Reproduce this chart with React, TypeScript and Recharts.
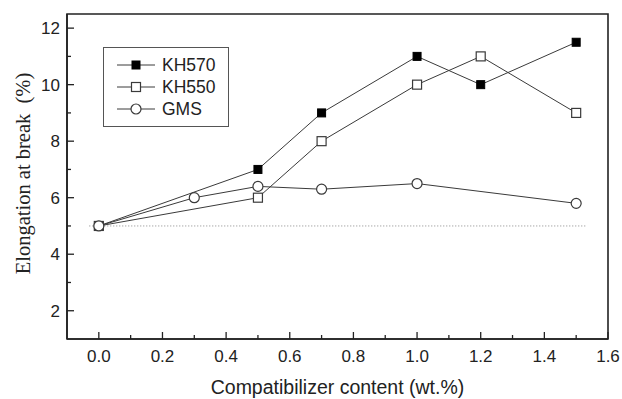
import React from 'react';
import {
  ScatterChart,
  Scatter,
  XAxis,
  YAxis,
  ReferenceLine,
  ReferenceArea,
  Legend,
} from 'recharts';

// compatibilizer content (wt.%) and elongation at break (%)
const kh570X = [0, 0.5, 0.7, 1.0, 1.2, 1.5];
const kh570Y = [5, 7, 9, 11, 10, 11.5];
const kh550X = [0, 0.5, 0.7, 1.0, 1.2, 1.5];
const kh550Y = [5, 6, 8, 10, 11, 9];
const gmsX = [0, 0.3, 0.5, 0.7, 1.0, 1.5];
const gmsY = [5, 6, 6.4, 6.3, 6.5, 5.8];

const xTicks = [0, 0.1, 0.2, 0.3, 0.4, 0.5, 0.6, 0.7, 0.8, 0.9, 1.0, 1.1, 1.2, 1.3, 1.4, 1.5, 1.6];
const yTicks = [2, 3, 4, 5, 6, 7, 8, 9, 10, 11, 12];
const baseline = 5;

const toPoints = (xs: number[], ys: number[]) => xs.map((x, i) => ({ x, y: ys[i] }));

const LINE = '#3a3a3a';
const AXIS = '#222';
const SANS = '"Liberation Sans", Arial, sans-serif';
const SERIF = '"Liberation Serif", "Times New Roman", serif';

const FilledSquare = ({ cx, cy }: any) => (
  <rect x={cx - 4} y={cy - 4} width={8} height={8} fill="#000" stroke="#000" strokeWidth={1} />
);
const OpenSquare = ({ cx, cy }: any) => (
  <rect x={cx - 4.5} y={cy - 4.5} width={9} height={9} fill="#fff" stroke={LINE} strokeWidth={1.2} />
);
const OpenCircle = ({ cx, cy }: any) => (
  <circle cx={cx} cy={cy} r={5} fill="#fff" stroke={LINE} strokeWidth={1.2} />
);

const series = [
  { name: 'KH570', data: toPoints(kh570X, kh570Y), shape: FilledSquare },
  { name: 'KH550', data: toPoints(kh550X, kh550Y), shape: OpenSquare },
  { name: 'GMS', data: toPoints(gmsX, gmsY), shape: OpenCircle },
];

const XTick = ({ x, y, payload }: any) => {
  const v = payload.value;
  const major = Math.round(v * 10) % 2 === 0;
  return (
    <g>
      <line x1={x} y1={y} x2={x} y2={y - (major ? 7 : 4)} stroke={AXIS} strokeWidth={1.3} />
      {major && (
        <text x={x} y={y + 23} textAnchor="middle" fontFamily={SANS} fontSize={17} fill="#222">
          {v.toFixed(1)}
        </text>
      )}
    </g>
  );
};

const YTick = ({ x, y, payload }: any) => {
  const v = payload.value;
  const major = v % 2 === 0;
  return (
    <g>
      <line x1={x} y1={y} x2={x + (major ? 7 : 4)} y2={y} stroke={AXIS} strokeWidth={1.3} />
      {major && (
        <text x={x - 7} y={y + 6} textAnchor="end" fontFamily={SANS} fontSize={17} fill="#222">
          {v}
        </text>
      )}
    </g>
  );
};

const LegendBox = () => (
  <div
    style={{
      border: '1px solid #555',
      width: 126,
      height: 80,
      boxSizing: 'border-box',
      background: '#fff',
      paddingTop: 6,
    }}
  >
    {series.map((s) => {
      const Shape = s.shape;
      return (
        <div key={s.name} style={{ display: 'flex', alignItems: 'center', height: 22 }}>
          <svg width={58} height={22} style={{ display: 'block' }}>
            <line x1={13} y1={11} x2={51} y2={11} stroke={LINE} strokeWidth={1} />
            <Shape cx={32} cy={11} />
          </svg>
          <span style={{ fontFamily: SANS, fontSize: 17.5, color: '#222', lineHeight: '22px' }}>
            {s.name}
          </span>
        </div>
      );
    })}
  </div>
);

const YLabel = ({ viewBox }: any) => {
  const cx = 23;
  const cy = viewBox.y + viewBox.height / 2 - 3;
  return (
    <text
      x={cx}
      y={cy}
      transform={`rotate(-90, ${cx}, ${cy})`}
      textAnchor="middle"
      dominantBaseline="central"
      fontFamily={SERIF}
      fontSize={20.5}
      fill="#222"
      style={{ whiteSpace: 'pre' }}
    >
      {'Elongation at break  (%)'}
    </text>
  );
};

export default function App() {
  return (
    <div style={{ position: 'absolute', left: 0, top: 0, background: '#fff' }}>
      <ScatterChart width={622} height={399} margin={{ top: 14, right: 14, bottom: 0, left: 0 }}>
        <ReferenceArea
          x1={-0.1}
          x2={1.6}
          y1={1}
          y2={12.5}
          fill="none"
          stroke={AXIS}
          strokeWidth={1.6}
          ifOverflow="visible"
        />
        <XAxis
          type="number"
          dataKey="x"
          domain={[-0.1, 1.6]}
          ticks={xTicks}
          interval={0}
          allowDataOverflow
          height={60}
          tickSize={0}
          tickMargin={0}
          tickLine={false}
          axisLine={{ stroke: AXIS, strokeWidth: 1.6 }}
          tick={<XTick />}
          label={{
            value: 'Compatibilizer content (wt.%)',
            position: 'insideBottom',
            offset: 5,
            style: { fontFamily: SANS, fontSize: 19.5, fill: '#222' },
          }}
        />
        <YAxis
          type="number"
          dataKey="y"
          domain={[1, 12.5]}
          ticks={yTicks}
          interval={0}
          allowDataOverflow
          width={67}
          tickSize={0}
          tickMargin={0}
          tickLine={false}
          axisLine={{ stroke: AXIS, strokeWidth: 1.6 }}
          tick={<YTick />}
          label={<YLabel />}
        />
        <ReferenceLine
          segment={[
            { x: -0.03, y: baseline },
            { x: 1.53, y: baseline },
          ]}
          stroke="#888"
          strokeDasharray="1 2"
          strokeWidth={1}
        />
        {series.map((s) => (
          <Scatter
            key={s.name}
            name={s.name}
            data={s.data}
            line={{ stroke: LINE, strokeWidth: 1 }}
            lineType="joint"
            shape={s.shape}
            isAnimationActive={false}
          />
        ))}
        <Legend
          content={<LegendBox />}
          layout="horizontal"
          verticalAlign="middle"
          align="center"
          wrapperStyle={{ position: 'absolute', left: 103, top: 47, width: 'auto', height: 'auto' }}
        />
      </ScatterChart>
    </div>
  );
}
